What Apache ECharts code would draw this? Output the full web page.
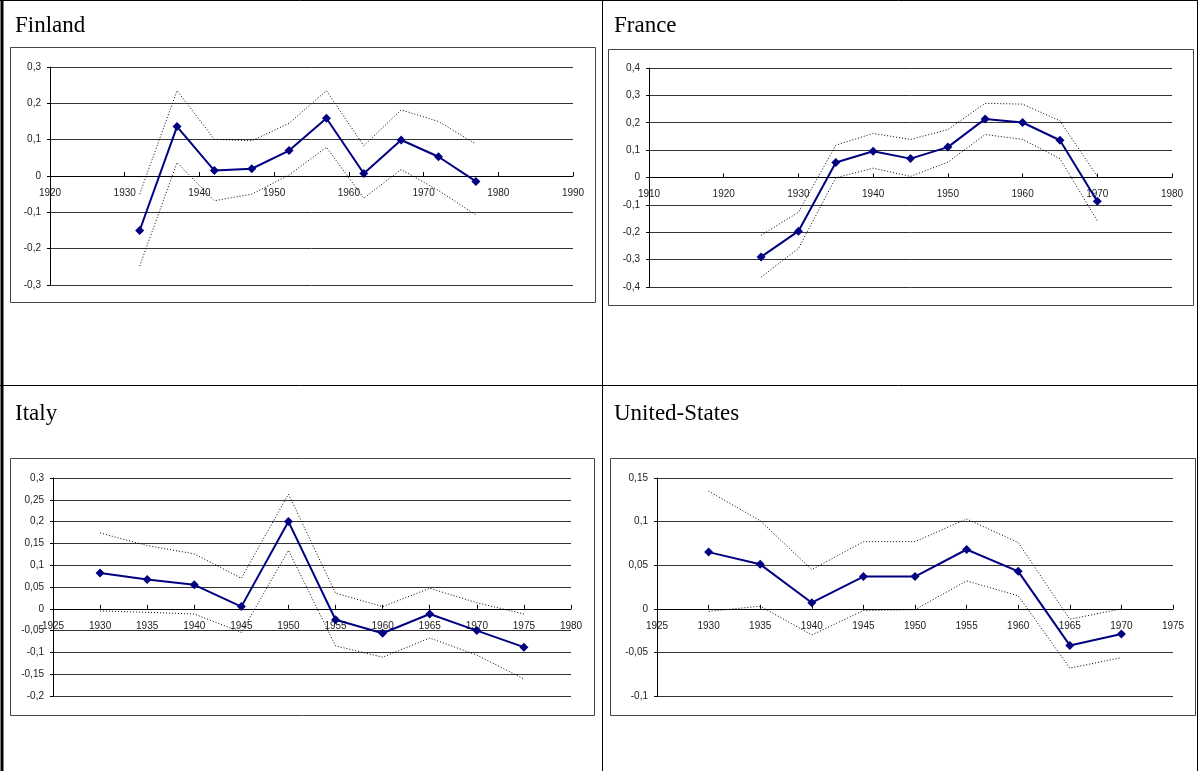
<!DOCTYPE html>
<html>
<head>
<meta charset="utf-8">
<script src="https://cdn.jsdelivr.net/npm/echarts@6/dist/echarts.min.js"></script>
<style>
  html, body { margin: 0; padding: 0; background: #fff; }
  #chart { width: 1198px; height: 771px; }
</style>
</head>
<body>
<div id="chart"></div>
<script>
// Finland
const finlandYears = [1932, 1937, 1942, 1947, 1952, 1957, 1962, 1967, 1972, 1977];
const finlandEst   = [-0.15, 0.136, 0.015, 0.02, 0.07, 0.159, 0.007, 0.099, 0.053, -0.015];
const finlandUpper = [-0.05, 0.235, 0.101, 0.097, 0.145, 0.235, 0.083, 0.182, 0.15, 0.088];
const finlandLower = [-0.248, 0.037, -0.068, -0.05, 0.003, 0.079, -0.061, 0.018, -0.04, -0.107];

// France
const franceYears = [1925, 1930, 1935, 1940, 1945, 1950, 1955, 1960, 1965, 1970];
const franceEst   = [-0.29, -0.196, 0.055, 0.096, 0.069, 0.111, 0.214, 0.201, 0.136, -0.087];
const franceUpper = [-0.211, -0.127, 0.118, 0.161, 0.139, 0.175, 0.271, 0.268, 0.207, 0.004];
const franceLower = [-0.364, -0.259, -0.001, 0.034, 0.004, 0.056, 0.157, 0.139, 0.069, -0.158];

// Italy
const italyYears = [1930, 1935, 1940, 1945, 1950, 1955, 1960, 1965, 1970, 1975];
const italyEst   = [0.082, 0.067, 0.055, 0.005, 0.2, -0.025, -0.056, -0.012, -0.05, -0.088];
const italyUpper = [0.174, 0.145, 0.126, 0.07, 0.263, 0.036, 0.005, 0.047, 0.014, -0.012];
const italyLower = [-0.005, -0.008, -0.012, -0.054, 0.134, -0.085, -0.111, -0.067, -0.106, -0.161];

// United States
const usYears = [1930, 1935, 1940, 1945, 1950, 1955, 1960, 1965, 1970];
const usEst   = [0.065, 0.051, 0.007, 0.037, 0.037, 0.068, 0.043, -0.042, -0.029];
const usUpper = [0.135, 0.101, 0.045, 0.077, 0.077, 0.103, 0.076, -0.012, 0.0];
const usLower = [-0.003, 0.003, -0.03, -0.002, -0.001, 0.032, 0.015, -0.068, -0.056];

// Axis ranges and tick steps: [min, max, interval]
const panelTitles = ['Finland', 'France', 'Italy', 'United-States'];
const xRanges = [[1920, 1990, 10], [1910, 1980, 10], [1925, 1980, 5], [1925, 1975, 5]];
const yRanges = [[-0.3, 0.3, 0.1], [-0.4, 0.4, 0.1], [-0.2, 0.3, 0.05], [-0.1, 0.15, 0.05]];

const panels = [
  { years: finlandYears, est: finlandEst, up: finlandUpper, lo: finlandLower },
  { years: franceYears, est: franceEst, up: franceUpper, lo: franceLower },
  { years: italyYears, est: italyEst, up: italyUpper, lo: italyLower },
  { years: usYears, est: usEst, up: usUpper, lo: usLower }
];

// Layout of the plot areas, chart frames and titles
const grids = [
  { left: 50, top: 67, width: 523, height: 218 },
  { left: 649, top: 68, width: 523, height: 219 },
  { left: 53, top: 478, width: 518, height: 218 },
  { left: 657, top: 478, width: 516, height: 218 }
];
const frames = [
  { x: 10.5, y: 47.5, width: 585, height: 255 },
  { x: 608.5, y: 49.5, width: 585, height: 256 },
  { x: 10.5, y: 458.5, width: 584, height: 257 },
  { x: 610.5, y: 458.5, width: 585, height: 257 }
];
const titlePos = [[15, 14], [614, 14], [15, 402], [614, 402]];

const SANS = 'Liberation Sans, Arial, sans-serif';
const SERIF = 'Liberation Serif, Times New Roman, serif';

const commaFmt = v => String(Math.round(v * 1000) / 1000).replace('.', ',');
const pairs = (xs, ys) => xs.map((x, i) => [x, ys[i]]);

const option = {
  animation: false,
  backgroundColor: '#fff',
  title: panelTitles.map((t, i) => ({
    text: t,
    left: titlePos[i][0],
    top: titlePos[i][1],
    padding: 0,
    textStyle: { fontFamily: SERIF, fontSize: 23, fontWeight: 'normal', color: '#000' }
  })),
  grid: grids.map(g => Object.assign({ containLabel: false }, g)),
  // The year axis sits on the zero line: shift it up from the bottom of the plot
  xAxis: xRanges.map((r, i) => {
    const yr = yRanges[i];
    const lift = grids[i].height * (0 - yr[0]) / (yr[1] - yr[0]);
    return {
      type: 'value',
      gridIndex: i,
      position: 'bottom',
      offset: -lift,
      min: r[0], max: r[1], interval: r[2],
      axisLine: { show: true, onZero: false, lineStyle: { color: '#000', width: 1 } },
      axisTick: { show: true, inside: true, length: 4, lineStyle: { color: '#000' } },
      axisLabel: { fontFamily: SANS, fontSize: 10, color: '#222', margin: 12, formatter: v => String(v) },
      splitLine: { show: false }
    };
  }),
  yAxis: yRanges.map((r, i) => ({
    type: 'value',
    gridIndex: i,
    min: r[0], max: r[1], interval: r[2],
    axisLine: { show: true, onZero: false, lineStyle: { color: '#000', width: 1 } },
    axisTick: { show: true, inside: false, length: 3, lineStyle: { color: '#000' } },
    axisLabel: { fontFamily: SANS, fontSize: 10, color: '#222', margin: 9, formatter: commaFmt },
    splitLine: { show: true, lineStyle: { color: '#333', width: 1 } }
  })),
  series: [],
  graphic: []
};

panels.forEach((p, i) => {
  const band = data => ({
    type: 'line',
    xAxisIndex: i, yAxisIndex: i,
    data: pairs(p.years, data),
    symbol: 'none',
    lineStyle: { color: '#000', width: 1, type: [1, 2] },
    z: 3,
    silent: true
  });
  option.series.push(band(p.up));
  option.series.push(band(p.lo));
  option.series.push({
    type: 'line',
    xAxisIndex: i, yAxisIndex: i,
    data: pairs(p.years, p.est),
    symbol: 'diamond',
    symbolSize: 9,
    itemStyle: { color: '#000080' },
    lineStyle: { color: '#000080', width: 2 },
    z: 5
  });
});

// Chart frames
frames.forEach(f => {
  option.graphic.push({
    type: 'rect', shape: f, z: -1,
    style: { fill: 'none', stroke: '#444', lineWidth: 1 }
  });
});

// Table rules
const rule = (x1, y1, x2, y2, w) => ({
  type: 'line', shape: { x1, y1, x2, y2 },
  style: { stroke: '#000', lineWidth: w }
});
option.graphic.push(
  rule(2, 0, 2, 771, 3),
  rule(0, 0.5, 1198, 0.5, 1),
  rule(1197.5, 0, 1197.5, 771, 1),
  rule(602.5, 0, 602.5, 771, 1),
  rule(0, 385.5, 1198, 385.5, 1)
);

const chart = echarts.init(document.getElementById('chart'), null, { renderer: 'canvas' });
chart.setOption(option);
</script>
</body>
</html>
